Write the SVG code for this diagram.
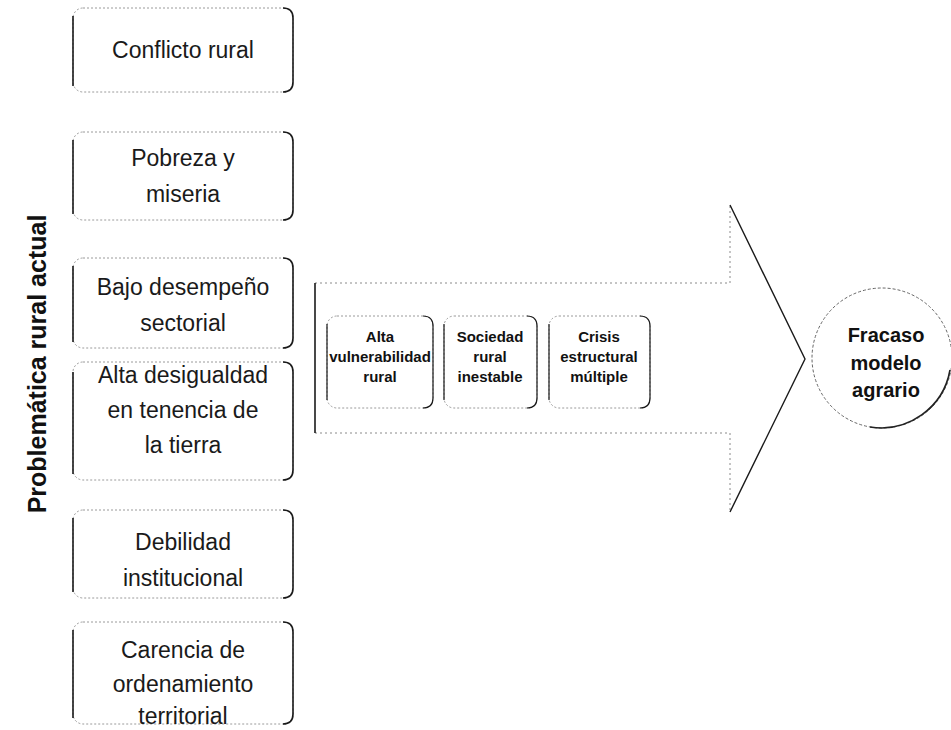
<svg xmlns="http://www.w3.org/2000/svg" width="951" height="730" viewBox="0 0 951 730">
<style>
  .bg { fill: #ffffff; }
  .frame { fill: none; stroke: #9a9a9a; stroke-width: 1; stroke-dasharray: 2 2; }
  .edge { fill: none; stroke: #1a1a1a; stroke-width: 1.6; }
  .t { font-family: "Liberation Sans", Arial, sans-serif; font-size: 23px; fill: #1a1a1a; text-anchor: middle; }
  .tb { font-family: "Liberation Sans", Arial, sans-serif; font-size: 15px; font-weight: bold; fill: #111; text-anchor: middle; }
  .tc { font-family: "Liberation Sans", Arial, sans-serif; font-size: 20px; font-weight: bold; fill: #111; text-anchor: middle; }
  .title { font-family: "Liberation Sans", Arial, sans-serif; font-size: 25px; font-weight: bold; fill: #111; text-anchor: middle; }
  .arrow { fill: none; stroke: #1a1a1a; stroke-width: 1.4; }
  .dash { fill: none; stroke: #8a8a8a; stroke-width: 1; stroke-dasharray: 2 3; }
</style>
<rect class="bg" x="0" y="0" width="951" height="730"/>

<text class="title" transform="translate(46,364) rotate(-90)">Problemática rural actual</text>

<g id="n1">
  <rect class="frame" x="73" y="8" width="220" height="84" rx="10"/>
  <path class="edge" d="M73,16 V86"/>
  <path class="edge" d="M283,8 Q293,8 293,18 V82 Q293,92 283,92"/>
  <text class="t" x="183" y="58">Conflicto rural</text>
</g>
<g id="n2">
  <rect class="frame" x="73" y="132" width="220" height="88" rx="10"/>
  <path class="edge" d="M73,140 V214"/>
  <path class="edge" d="M283,132 Q293,132 293,142 V210 Q293,220 283,220"/>
  <text class="t" x="183" y="166">Pobreza y</text>
  <text class="t" x="183" y="202">miseria</text>
</g>
<g id="n3">
  <rect class="frame" x="73" y="258" width="220" height="90" rx="10"/>
  <path class="edge" d="M73,266 V342"/>
  <path class="edge" d="M283,258 Q293,258 293,268 V338 Q293,348 283,348"/>
  <text class="t" x="183" y="295">Bajo desempeño</text>
  <text class="t" x="183" y="331">sectorial</text>
</g>
<g id="n4">
  <rect class="frame" x="73" y="362" width="220" height="118" rx="10"/>
  <path class="edge" d="M73,372 V474"/>
  <path class="edge" d="M283,362 Q293,362 293,372 V470 Q293,480 283,480"/>
  <text class="t" x="183" y="383">Alta desigualdad</text>
  <text class="t" x="183" y="418">en tenencia de</text>
  <text class="t" x="183" y="453">la tierra</text>
</g>
<g id="n5">
  <rect class="frame" x="73" y="510" width="220" height="88" rx="10"/>
  <path class="edge" d="M73,518 V592"/>
  <path class="edge" d="M283,510 Q293,510 293,520 V588 Q293,598 283,598"/>
  <text class="t" x="183" y="550">Debilidad</text>
  <text class="t" x="183" y="586">institucional</text>
</g>
<g id="n6">
  <rect class="frame" x="73" y="622" width="220" height="102" rx="10"/>
  <path class="edge" d="M73,630 V718"/>
  <path class="edge" d="M283,622 Q293,622 293,632 V714 Q293,724 283,724"/>
  <text class="t" x="183" y="658">Carencia de</text>
  <text class="t" x="183" y="692">ordenamiento</text>
  <text class="t" x="183" y="724">territorial</text>
</g>

<g id="connectors">
  <path class="dash" d="M315,283 H730 V205"/>
  <path class="dash" d="M315,433 H730 V512"/>
  <path class="edge" d="M315,283 V433"/>
  <path class="arrow" d="M730,205 L805,359 L730,512"/>
</g>

<g id="s1">
  <rect class="frame" x="327" y="316" width="106" height="92" rx="10"/>
  <path class="edge" d="M327,324 V400" style="stroke-width:1.2"/>
  <path class="edge" d="M423,316 Q433,316 433,326 V398 Q433,408 423,408" style="stroke-width:1.2"/>
  <text class="tb" x="380" y="342">Alta</text>
  <text class="tb" x="380" y="362">vulnerabilidad</text>
  <text class="tb" x="380" y="382">rural</text>
</g>
<g id="s2">
  <rect class="frame" x="444" y="316" width="93" height="92" rx="10"/>
  <path class="edge" d="M444,324 V400" style="stroke-width:1.2"/>
  <path class="edge" d="M527,316 Q537,316 537,326 V398 Q537,408 527,408" style="stroke-width:1.2"/>
  <text class="tb" x="490" y="342">Sociedad</text>
  <text class="tb" x="490" y="362">rural</text>
  <text class="tb" x="490" y="382">inestable</text>
</g>
<g id="s3">
  <rect class="frame" x="549" y="316" width="101" height="92" rx="10"/>
  <path class="edge" d="M549,324 V400" style="stroke-width:1.2"/>
  <path class="edge" d="M640,316 Q650,316 650,326 V398 Q650,408 640,408" style="stroke-width:1.2"/>
  <text class="tb" x="599" y="342">Crisis</text>
  <text class="tb" x="599" y="362">estructural</text>
  <text class="tb" x="599" y="382">múltiple</text>
</g>

<g id="goal">
  <circle cx="882" cy="358" r="70" fill="none" stroke="#666" stroke-width="1" stroke-dasharray="3 2"/>
  <path d="M870,427 A70,70 0 0 0 950,370" fill="none" stroke="#222" stroke-width="1.6"/>
  <text class="tc" x="886" y="342">Fracaso</text>
  <text class="tc" x="886" y="370">modelo</text>
  <text class="tc" x="886" y="397">agrario</text>
</g>
</svg>
